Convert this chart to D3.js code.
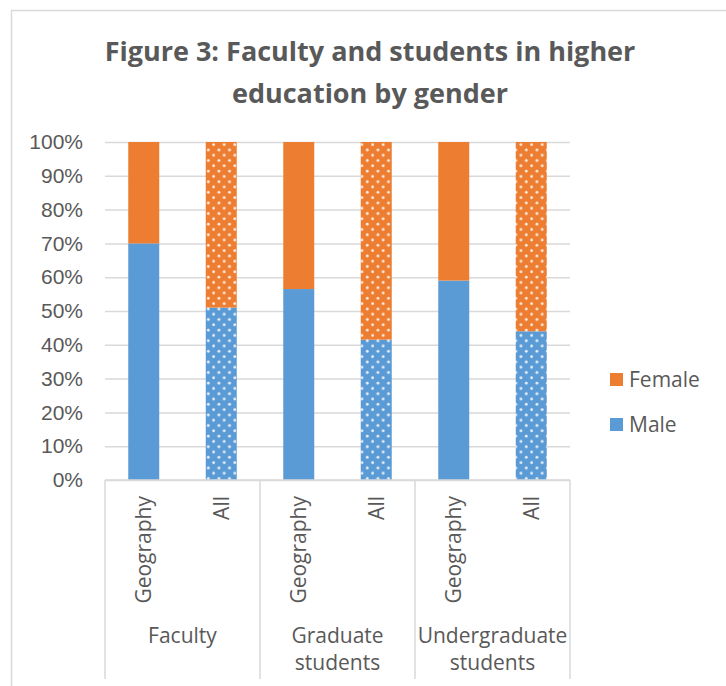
<!DOCTYPE html>
<html>
<head>
<meta charset="utf-8">
<script src="https://cdn.jsdelivr.net/npm/d3@7"></script>
<style>
  body { margin: 0; background: #fff; }
  svg { display: block; font-family: "Open Sans", sans-serif; }
  .tick text { fill: #595959; font-size: 21px; }
</style>
</head>
<body>
<svg width="726" height="686"></svg>
<script>
var groups = ["Faculty", "Graduate students", "Undergraduate students"],
    subs = ["Geography", "All"],
    male = [70, 51, 56.5, 41.5, 59, 44],
    female = [30, 49, 43.5, 58.5, 41, 56],
    yTicks = [0, 10, 20, 30, 40, 50, 60, 70, 80, 90, 100];

var colors = {Male: "#5b9bd5", Female: "#ed7d31"};

var svg = d3.select("svg"),
    margin = {top: 142, left: 105},
    width = 465,
    height = 338;

// chart frame
svg.append("rect")
    .attr("x", 11.5).attr("y", 10.5)
    .attr("width", 740).attr("height", 700)
    .attr("fill", "none")
    .attr("stroke", "#d9d9d9")
    .attr("stroke-width", 1.5);

// dotted patterns for the "All" bars
var defs = svg.append("defs");
Object.keys(colors).forEach(function(k) {
    var p = defs.append("pattern")
        .attr("id", "dots-" + k)
        .attr("patternUnits", "userSpaceOnUse")
        .attr("width", 10.6).attr("height", 10.6);
    p.append("rect").attr("width", 10.6).attr("height", 10.6).attr("fill", colors[k]);
    [[2.6, 2.6], [7.9, 7.9]].forEach(function(c) {
        p.append("circle").attr("cx", c[0]).attr("cy", c[1]).attr("r", 1.4)
            .attr("fill", "#fff").attr("fill-opacity", 0.85);
    });
});

svg.append("text")
    .attr("x", 370)
    .attr("text-anchor", "middle")
    .style("font-size", "27px")
    .style("font-weight", "bold")
    .attr("fill", "#595959")
    .selectAll("tspan")
    .data(["Figure 3: Faculty and students in higher", "education by gender"])
    .enter().append("tspan")
    .attr("x", 370)
    .attr("y", function(d, i) { return 61 + i * 42; })
    .text(function(d) { return d; });

var g = svg.append("g")
    .attr("transform", "translate(" + margin.left + "," + margin.top + ")");

var x0 = d3.scaleBand().domain(groups).range([0, width]),
    x1 = d3.scaleBand().domain(subs).range([0, x0.bandwidth()]).paddingInner(0.6).paddingOuter(0.3),
    y = d3.scaleLinear().domain([0, 100]).range([height, 0]);

var rows = [];
groups.forEach(function(grp, i) {
    subs.forEach(function(s, j) {
        var k = i * subs.length + j;
        rows.push({group: grp, sub: s, Male: male[k], Female: female[k]});
    });
});

var yAxis = d3.axisLeft(y).tickValues(yTicks).tickSize(-width).tickPadding(22)
    .tickFormat(function(d) { return d + "%"; });

g.append("g")
    .attr("class", "axis axis--y")
    .call(yAxis)
    .call(function(a) {
        a.select(".domain").remove();
        a.selectAll(".tick line").attr("stroke", "#d9d9d9").attr("stroke-width", 1.5);
    });

var series = d3.stack().keys(["Male", "Female"])(rows);

g.selectAll(".series")
    .data(series)
    .enter().append("g")
    .attr("class", "series")
    .selectAll("rect")
    .data(function(d) { return d.map(function(v) { v.key = d.key; return v; }); })
    .enter().append("rect")
    .attr("x", function(d) { return x0(d.data.group) + x1(d.data.sub); })
    .attr("width", x1.bandwidth())
    .attr("y", function(d) { return y(d[1]); })
    .attr("height", function(d) { return y(d[0]) - y(d[1]); })
    .attr("fill", function(d) {
        return d.data.sub == "All" ? "url(#dots-" + d.key + ")" : colors[d.key];
    });

// multi-level category axis
var ax = g.append("g").attr("class", "axis axis--x");
ax.append("line")
    .attr("x1", 0).attr("x2", width)
    .attr("y1", height).attr("y2", height)
    .attr("stroke", "#d9d9d9").attr("stroke-width", 1.5);

var edges = groups.map(function(d) { return x0(d); }).concat([width]);
ax.selectAll(".sep")
    .data(edges)
    .enter().append("line")
    .attr("class", "sep")
    .attr("x1", function(d) { return d; }).attr("x2", function(d) { return d; })
    .attr("y1", height).attr("y2", height + 199)
    .attr("stroke", "#d9d9d9").attr("stroke-width", 1.5);

ax.selectAll(".sub-label")
    .data(rows)
    .enter().append("text")
    .attr("class", "sub-label")
    .attr("transform", function(d) {
        return "translate(" + (x0(d.group) + x1(d.sub) + x1.bandwidth() / 2) + "," + (height + 16) + ") rotate(-90)";
    })
    .attr("text-anchor", "end")
    .attr("dy", "0.35em")
    .attr("fill", "#595959")
    .style("font-size", "21px")
    .text(function(d) { return d.sub; });

ax.selectAll(".group-label")
    .data(groups)
    .enter().append("text")
    .attr("class", "group-label")
    .attr("text-anchor", "middle")
    .attr("fill", "#595959")
    .style("font-size", "21px")
    .each(function(d) {
        var words = d.split(" "), t = d3.select(this);
        words.forEach(function(w, i) {
            t.append("tspan")
                .attr("x", x0(d) + x0.bandwidth() / 2)
                .attr("y", height + 163 + i * 27)
                .text(w);
        });
    });

// legend
var legend = svg.append("g")
    .attr("transform", "translate(610,373)");
["Female", "Male"].forEach(function(k, i) {
    var row = legend.append("g").attr("transform", "translate(0," + (i * 45) + ")");
    row.append("rect").attr("width", 13).attr("height", 13).attr("fill", colors[k]);
    row.append("text")
        .attr("x", 19).attr("y", 7).attr("dy", "0.35em")
        .attr("fill", "#595959")
        .style("font-size", "21px")
        .text(k);
});
</script>
</body>
</html>
